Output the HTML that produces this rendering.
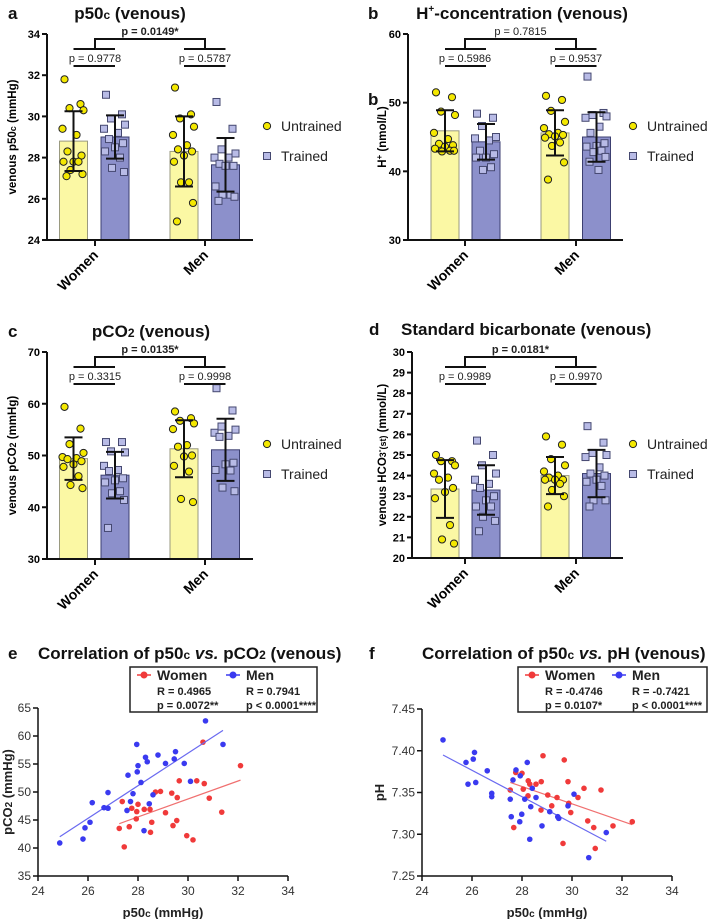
<!DOCTYPE html>
<html><head><meta charset="utf-8"><style>
html,body{margin:0;padding:0;background:#fff}
svg{display:block;font-family:"Liberation Sans",Arial,sans-serif}
</style></head><body>
<svg id="fig" width="708" height="919" viewBox="0 0 708 919" xmlns="http://www.w3.org/2000/svg"></svg>
<script>
// ---- Panel a: p50c ----
const aWU=[31.8,30.6,30.4,30.3,29.4,29.1,28.3,28.1,27.8,27.8,27.8,27.4,27.2,27.1];
const aWT=[31.05,30.1,29.9,29.6,29.4,29.2,28.9,28.7,28.5,28.3,28.0,27.5,27.3];
const aMU=[31.4,30.1,29.9,29.5,29.1,28.6,28.4,28.3,28.1,27.8,26.8,26.8,25.8,24.9];
const aMT=[30.7,29.4,28.4,28.2,28.0,28.0,27.7,27.6,27.6,26.6,26.2,26.2,26.1,25.9];
const aMeans=[28.8,29.0,28.3,27.65];
const aSDs=[1.45,1.05,1.7,1.3];
const aTicks=[24,26,28,30,32,34];
const aP=["p = 0.9778","p = 0.5787","p = 0.0149*"];
// ---- Panel b: H+ ----
const bWU=[51.5,50.8,48.7,48.2,45.6,44.7,44.0,43.8,43.6,43.3,43.0,42.9,43.0];
const bWT=[48.4,47.8,46.6,45.0,44.8,44.5,43.0,42.5,42.0,42.0,40.6,40.2];
const bMU=[51.0,50.4,48.8,47.2,46.3,45.6,45.4,45.3,45.1,44.9,44.2,43.7,41.3,38.8];
const bMT=[53.8,48.5,48.2,48.0,47.8,46.5,45.6,44.1,43.7,43.6,43.0,42.8,42.1,41.4,40.2];
const bMeans=[45.9,44.3,45.6,45.0];
const bSDs=[3.0,2.6,3.3,3.6];
const bTicks=[30,40,50,60];
const bP=["p = 0.5986","p = 0.9537","p = 0.7815"];
// ---- Panel c: pCO2 ----
const cWU=[59.4,55.2,52.2,50.5,49.7,49.5,49.3,48.9,48.3,47.8,46.0,44.3,43.7];
const cWT=[52.6,52.6,50.8,50.6,48.0,47.2,47.0,45.6,45.2,44.8,43.1,42.7,41.4,36.0];
const cMU=[58.5,57.2,56.7,56.2,55.1,52.0,51.7,50.0,49.8,48.0,46.9,41.6,41.0];
const cMT=[63.0,58.7,55.6,55.0,54.4,53.8,53.6,48.6,48.3,47.2,47.1,43.8,43.1];
const cMeans=[49.4,46.2,51.3,51.1];
const cSDs=[4.1,4.5,5.5,6.0];
const cTicks=[30,40,50,60,70];
const cP=["p = 0.3315","p = 0.9998","p = 0.0135*"];
// ---- Panel d: HCO3 ----
const dWU=[25.0,24.7,24.7,24.5,24.1,23.9,23.8,23.4,23.2,22.9,21.6,20.9,20.7];
const dWT=[25.7,25.0,24.5,24.1,23.8,23.6,23.4,23.0,22.8,22.5,22.5,22.0,21.8,21.3];
const dMU=[25.9,25.5,24.8,24.5,24.2,24.0,23.9,23.8,23.8,23.8,23.6,23.3,23.0,22.5];
const dMT=[26.4,25.6,25.1,25.0,24.9,24.4,24.1,24.0,23.8,23.7,23.5,22.8,22.8,22.5];
const dMeans=[23.35,23.3,24.0,24.1];
const dSDs=[1.4,1.2,0.9,1.15];
const dTicks=[20,21,22,23,24,25,26,27,28,29,30];
const dP=["p = 0.9989","p = 0.9970","p = 0.0181*"];
// ---- Panel e: p50c vs pCO2 ----
const eWomenX=[30.6,32.1,29.65,30.35,30.65,28.7,28.9,29.35,29.57,30.85,27.37,28.0,27.75,28.25,28.48,27.95,29.1,31.35,27.93,28.55,29.55,29.4,27.25,27.65,28.5,29.95,30.2,27.45];
const eWomenY=[58.9,54.7,52.0,52.0,51.5,50.0,50.1,49.8,49.0,48.9,48.3,47.8,47.1,46.9,46.9,46.5,46.3,46.4,45.2,44.6,44.9,44.0,43.5,43.8,42.8,42.2,41.45,40.2];
const eMenX=[30.7,27.95,31.4,28.8,29.5,28.3,28.37,29.1,29.45,29.85,28.0,27.6,27.97,28.12,30.1,26.8,27.8,28.6,26.17,27.7,28.45,26.64,26.8,27.56,26.08,25.88,28.24,25.8,24.87];
const eMenY=[62.7,58.5,58.5,56.6,57.2,56.2,55.4,55.1,55.9,55.1,54.7,53.0,53.6,51.7,51.9,49.9,49.7,49.5,48.1,48.3,47.9,47.2,47.1,46.7,44.6,43.6,43.1,41.6,40.9];
const eXTicks=[24,26,28,30,32,34];
const eYTicks=[35,40,45,50,55,60,65];
// ---- Panel f: p50c vs pH ----
const fWomenX=[28.84,29.69,27.75,28.0,28.25,28.31,28.56,28.77,29.84,30.48,31.16,27.53,28.05,29.03,29.4,30.24,29.87,28.24,29.19,29.95,28.76,30.63,31.64,30.87,32.41,27.67,29.64,30.93];
const fWomenY=[7.394,7.389,7.374,7.373,7.364,7.360,7.360,7.363,7.363,7.355,7.353,7.353,7.354,7.347,7.344,7.344,7.337,7.346,7.334,7.326,7.329,7.316,7.310,7.308,7.315,7.308,7.289,7.283];
const fMenX=[24.84,25.76,26.05,26.1,26.61,25.84,26.15,26.79,26.79,27.76,28.21,27.64,27.93,28.41,27.53,28.11,28.56,30.08,28.35,29.11,29.84,29.43,29.47,27.57,27.99,27.91,28.8,31.37,28.31,30.67];
const fMenY=[7.413,7.386,7.390,7.398,7.376,7.360,7.362,7.349,7.345,7.377,7.386,7.365,7.370,7.355,7.342,7.342,7.344,7.348,7.333,7.327,7.334,7.321,7.319,7.321,7.324,7.315,7.310,7.302,7.294,7.272];
const fXTicks=[24,26,28,30,32,34];
const fYTicks=[7.25,7.30,7.35,7.40,7.45];

const NS="http://www.w3.org/2000/svg";
const svg=document.getElementById('fig');
function mk(tag,attrs,parent,text){const e=document.createElementNS(NS,tag);for(const k in attrs)e.setAttribute(k,attrs[k]);if(text!==undefined)e.textContent=text;(parent||svg).appendChild(e);return e;}
const JIT=[-9,7,-4,10,-11,3,-6,8,0,-10,5,-3,9,-7,2];

function barPanel(cfg){
  const g=mk('g',{});
  
  
  const y=v=>cfg.yBot-(v-cfg.min)/(cfg.max-cfg.min)*(cfg.yBot-cfg.yTop);
  const groups=[cfg.WU,cfg.WT,cfg.MU,cfg.MT];
  const fills=['#fbf8a4','#8c90cb'],strokes=['#9a9a80','#3c3f70'];
  groups.forEach((pts,i)=>{
    const cx=cfg.centers[i],t=i%2;
    const b=mk('rect',{x:cx-14,y:y(cfg.means[i]),width:28,height:cfg.yBot-y(cfg.means[i]),fill:fills[t],stroke:strokes[t],'stroke-width':1},g);
    
    
    pts.forEach((v,j)=>{
      const px=cx+JIT[j%JIT.length],py=y(v);
      let m;
      if(t===0) m=mk('circle',{cx:px,cy:py,r:3.6,fill:'#f4e800',stroke:'#222','stroke-width':1},g);
      else m=mk('rect',{x:px-3.5,y:py-3.5,width:7,height:7,fill:'#b8bbe6',stroke:'#454870','stroke-width':1},g);
      
      
    });
    const hi=y(cfg.means[i]+cfg.sds[i]),lo=y(cfg.means[i]-cfg.sds[i]);
    const eb=mk('path',{d:`M${cx},${hi}V${lo}M${cx-9},${hi}H${cx+9}M${cx-9},${lo}H${cx+9}`,stroke:'#111','stroke-width':2,fill:'none'},g);
    
    
  });
  // axes
  mk('path',{d:`M${cfg.ax},${cfg.yTop}V${cfg.yBot}H${cfg.axEnd}`,stroke:'#111','stroke-width':2,fill:'none'},g);
  cfg.ticks.forEach(v=>{
    mk('line',{x1:cfg.ax-5,x2:cfg.ax,y1:y(v),y2:y(v),stroke:'#111','stroke-width':2},g);
    const t=mk('text',{x:cfg.ax-7,y:y(v)+4,'text-anchor':'end','font-size':11,'font-weight':'bold'},g,v);
    
    
  });
  ['Women','Men'].forEach((c,i)=>{
    const gx=cfg.gx[i];
    mk('line',{x1:gx,x2:gx,y1:cfg.yBot,y2:cfg.yBot+6,stroke:'#111','stroke-width':2},g);
    const t=mk('text',{x:gx+4,y:cfg.yBot+16,'text-anchor':'end','font-size':14,'font-weight':'bold',transform:`rotate(-45 ${gx+4} ${cfg.yBot+16})`},g,c);
    
    
  });
  const yt=mk('text',{x:cfg.ytx,y:(cfg.yTop+cfg.yBot)/2,'text-anchor':'middle','font-size':11.5,'font-weight':'bold',transform:`rotate(-90 ${cfg.ytx} ${(cfg.yTop+cfg.yBot)/2})`},g);
  yt.innerHTML=cfg.ytitle;
  
  
  // brackets
  const T=cfg.yTop;
  const [c0,c1,c2,c3]=cfg.centers;
  mk('path',{d:`M${cfg.gx[0]},${T+15}V${T+5}H${cfg.gx[1]}V${T+15}M${c0},${T+15}H${c1}M${c2},${T+15}H${c3}M${c0},${T+32}H${c1}M${c2},${T+32}H${c3}`,stroke:'#111','stroke-width':2,fill:'none'},g);
  [[cfg.gx[0],cfg.p[0]],[cfg.gx[1],cfg.p[1]]].forEach(([x,s])=>{
    const t=mk('text',{x:x,y:T+28,'text-anchor':'middle','font-size':11,fill:'#222'},g,s);
    
    
  });
  const bp=mk('text',{x:(cfg.gx[0]+cfg.gx[1])/2,y:T+1,'text-anchor':'middle','font-size':11,'font-weight':cfg.boldP?'bold':'normal',fill:'#222'},g,cfg.p[2]);
  
  
  // legend
  const lx=cfg.legX;
  const l1=mk('circle',{cx:lx,cy:T+92,r:3.6,fill:'#f4e800',stroke:'#222'},g);
  
  
  const l2=mk('rect',{x:lx-3.5,y:T+118.5,width:7,height:7,fill:'#b8bbe6',stroke:'#454870'},g);
  
  
  const lt1=mk('text',{x:lx+14,y:T+97,'font-size':14,fill:'#222'},g,'Untrained');
  
  
  const lt2=mk('text',{x:lx+14,y:T+127,'font-size':14,fill:'#222'},g,'Trained');
  
  
}
const L={ax:47,axEnd:253,centers:[73.5,115,184,225.5],gx:[95,205],legX:267,ytx:16};
const R={ax:408,axEnd:623,centers:[445,486,555,596.5],gx:[465,576],legX:633,ytx:386};
barPanel(Object.assign({},L,{name:'panel-a',yTop:34,yBot:240,min:24,max:34,WU:aWU,WT:aWT,MU:aMU,MT:aMT,means:aMeans,sds:aSDs,ticks:aTicks,p:aP,boldP:true,ytitle:'venous p50<tspan font-size="9">c</tspan> (mmHg)'}));
barPanel(Object.assign({},R,{name:'panel-b',yTop:34,yBot:240,min:30,max:60,WU:bWU,WT:bWT,MU:bMU,MT:bMT,means:bMeans,sds:bSDs,ticks:bTicks,p:bP,boldP:false,ytitle:'H<tspan dy="-4" font-size="8">+</tspan><tspan dy="4"> (nmol/L)</tspan>'}));
barPanel(Object.assign({},L,{name:'panel-c',yTop:352,yBot:559,min:30,max:70,WU:cWU,WT:cWT,MU:cMU,MT:cMT,means:cMeans,sds:cSDs,ticks:cTicks,p:cP,boldP:true,ytitle:'venous pCO<tspan font-size="9">2</tspan> (mmHg)'}));
barPanel(Object.assign({},R,{name:'panel-d',ax:412,yTop:352,yBot:558,min:20,max:30,WU:dWU,WT:dWT,MU:dMU,MT:dMT,means:dMeans,sds:dSDs,ticks:dTicks,p:dP,boldP:true,ytitle:'venous HCO<tspan font-size="9">3</tspan><tspan dy="-4" font-size="8">-</tspan><tspan dy="4" font-size="9">(st)</tspan> (mmol/L)'}));

function fit(xs,ys){const n=xs.length;let mx=0,my=0;xs.forEach((v,i)=>{mx+=v;my+=ys[i]});mx/=n;my/=n;let sxy=0,sxx=0;xs.forEach((v,i)=>{sxy+=(v-mx)*(ys[i]-my);sxx+=(v-mx)*(v-mx)});const b=sxy/sxx;return [b,my-b*mx];}
function scatterPanel(cfg){
  const g=mk('g',{});
  
  
  const X=v=>cfg.x0+(v-cfg.xmin)/(cfg.xmax-cfg.xmin)*(cfg.x1-cfg.x0);
  const Y=v=>cfg.yBot-(v-cfg.ymin)/(cfg.ymax-cfg.ymin)*(cfg.yBot-cfg.yTop);
  [[cfg.wx,cfg.wy,'#f03a3a','#f07070','women'],[cfg.mx,cfg.my,'#3a3af0','#6a6af0','men']].forEach(([xs,ys,c,lc,nm])=>{
    const [b,a]=fit(xs,ys);const lo=Math.min(...xs),hi=Math.max(...xs);
    const ln=mk('line',{x1:X(lo),y1:Y(a+b*lo),x2:X(hi),y2:Y(a+b*hi),stroke:lc,'stroke-width':1.2},g);
    
    
    xs.forEach((v,i)=>{
      const p=mk('circle',{cx:X(v),cy:Y(ys[i]),r:2.8,fill:c},g);
      
      
    });
  });
  mk('path',{d:`M${cfg.x0},${cfg.yTop}V${cfg.yBot}H${cfg.x1}`,stroke:'#111','stroke-width':1.5,fill:'none'},g);
  cfg.xt.forEach(v=>{
    mk('line',{x1:X(v),x2:X(v),y1:cfg.yBot,y2:cfg.yBot+5,stroke:'#111','stroke-width':1.5},g);
    const t=mk('text',{x:X(v),y:cfg.yBot+19,'text-anchor':'middle','font-size':12,fill:'#333'},g,v);
    
    
  });
  cfg.yt.forEach(v=>{
    mk('line',{x1:cfg.x0-5,x2:cfg.x0,y1:Y(v),y2:Y(v),stroke:'#111','stroke-width':1.5},g);
    const t=mk('text',{x:cfg.x0-7,y:Y(v)+4,'text-anchor':'end','font-size':12,fill:'#333'},g,cfg.fmt(v));
    
    
  });
  const xt=mk('text',{x:(cfg.x0+cfg.x1)/2,y:cfg.yBot+41,'text-anchor':'middle','font-size':13,'font-weight':'bold',fill:'#222'},g);
  xt.innerHTML='p50<tspan font-size="10">c</tspan> (mmHg)';
  
  
  const ym=(cfg.yTop+cfg.yBot)/2;
  const yt=mk('text',{x:cfg.ytx,y:ym,'text-anchor':'middle','font-size':13,'font-weight':'bold',fill:'#222',transform:`rotate(-90 ${cfg.ytx} ${ym})`},g);
  yt.innerHTML=cfg.ytitle;
  
  
  const lb=mk('g',{},g);
  
  
  mk('rect',{x:cfg.lx,y:667,width:cfg.lw,height:45,fill:'#fff',stroke:'#222','stroke-width':1.5},lb);
  [[cfg.lx+7,'#f03a3a','Women',cfg.wR,cfg.wP],[cfg.lx+cfg.mOff,'#3a3af0','Men',cfg.mR,cfg.mP]].forEach(([x,c,n,r,p])=>{
    mk('line',{x1:x,x2:x+14,y1:675,y2:675,stroke:c,'stroke-width':1.5},lb);
    mk('circle',{cx:x+7,cy:675,r:3.5,fill:c},lb);
    const t=mk('text',{x:x+20,y:680,'font-size':14,'font-weight':'bold',fill:'#222'},lb,n);
    
    
    mk('text',{x:x+20,y:695,'font-size':11,'font-weight':'bold',fill:'#222'},lb,r);
    mk('text',{x:x+20,y:709,'font-size':11,'font-weight':'bold',fill:'#222'},lb,p);
  });
}
scatterPanel({name:'panel-e',x0:38,x1:288,xmin:24,xmax:34,yTop:708,yBot:876,ymin:35,ymax:65,wx:eWomenX,wy:eWomenY,mx:eMenX,my:eMenY,xt:eXTicks,yt:eYTicks,fmt:v=>v,ytx:12,ytitle:'pCO<tspan font-size="10">2</tspan> (mmHg)',lx:130,lw:187,mOff:96,wR:'R = 0.4965',wP:'p = 0.0072**',mR:'R = 0.7941',mP:'p < 0.0001****'});
scatterPanel({name:'panel-f',x0:422,x1:672,xmin:24,xmax:34,yTop:709,yBot:876,ymin:7.25,ymax:7.45,wx:fWomenX,wy:fWomenY,mx:fMenX,my:fMenY,xt:fXTicks,yt:fYTicks,fmt:v=>v.toFixed(2),ytx:384,ytitle:'pH',lx:518,lw:189,mOff:94,wR:'R = -0.4746',wP:'p = 0.0107*',mR:'R = -0.7421',mP:'p < 0.0001****'});

// titles
function title(x,y,html,anchor,name,size){const t=mk('text',{x:x,y:y,'text-anchor':anchor||'middle','font-size':size||17,'font-weight':'bold',fill:'#111'});t.innerHTML=html;}
title(8,19,'a','start','panel-label-a');
title(130,19,'p50<tspan font-size="12">c</tspan> (venous)','middle','title-a');
title(368,19,'b','start','panel-label-b');
title(368,105,'b','start','panel-label-b-stray');
title(522,19,'H<tspan dy="-7" font-size="10">+</tspan><tspan dy="7">-concentration (venous)</tspan>','middle','title-b');
title(8,337,'c','start','panel-label-c');
title(151,337,'pCO<tspan font-size="12">2</tspan> (venous)','middle','title-c');
title(369,335,'d','start','panel-label-d');
title(401,335,'Standard bicarbonate (venous)','start','title-d');
title(8,659,'e','start','panel-label-e');
title(38,659,'Correlation of p50<tspan font-size="12">c</tspan> <tspan font-style="italic">vs.</tspan> pCO<tspan font-size="12">2</tspan> (venous)','start','title-e');
title(369,659,'f','start','panel-label-f');
title(422,659,'Correlation of p50<tspan font-size="12">c</tspan> <tspan font-style="italic">vs.</tspan> pH (venous)','start','title-f');
</script>
</body></html>
